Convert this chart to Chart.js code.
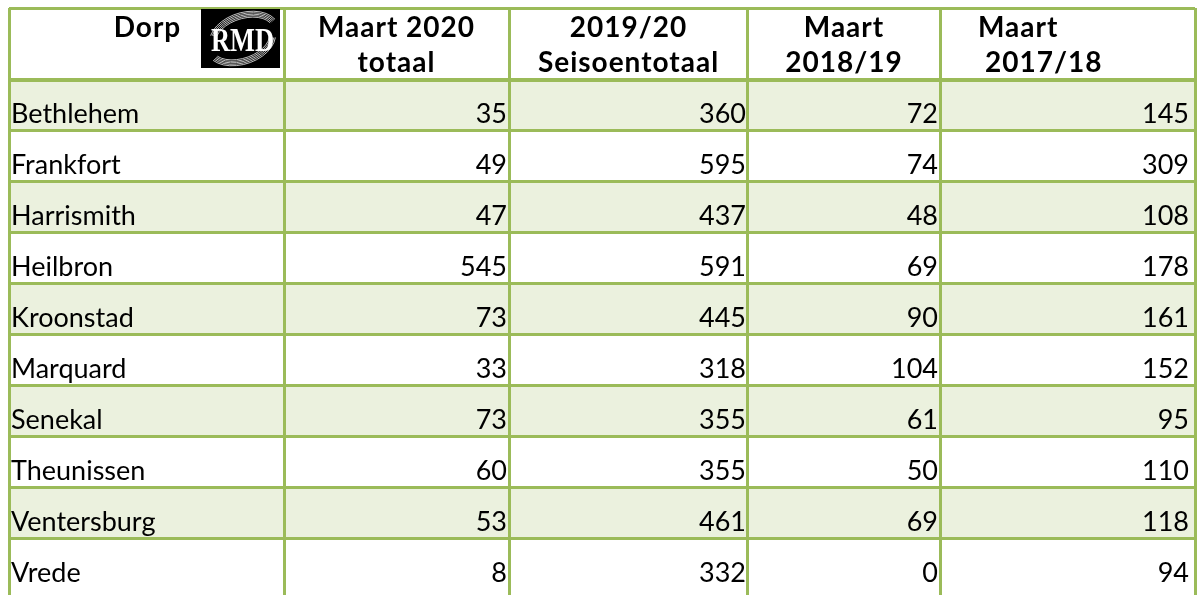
<!DOCTYPE html>
<html lang="af">
<head>
<meta charset="UTF-8">
<title>Dorp - Maart 2020</title>
<script src="https://cdn.jsdelivr.net/npm/chart.js"></script>
<style>
    body { margin: 0; background: #fff; }
    #wrap { width: 1199px; height: 595px; }
</style>
</head>
<body>
<div id="wrap"><canvas id="tableChart" width="1199" height="595"></canvas></div>
<script>
    const towns = ['Bethlehem', 'Frankfort', 'Harrismith', 'Heilbron', 'Kroonstad', 'Marquard', 'Senekal', 'Theunissen', 'Ventersburg', 'Vrede'];
    const maart2020 = [35, 49, 47, 545, 73, 33, 73, 60, 53, 8];
    const seisoen1920 = [360, 595, 437, 591, 445, 318, 355, 355, 461, 332];
    const maart1819 = [72, 74, 48, 69, 90, 104, 61, 50, 69, 0];
    const maart1718 = [145, 309, 108, 178, 161, 152, 95, 110, 118, 94];
    const headers = [['Dorp'], ['Maart 2020', 'totaal'], ['2019/20', 'Seisoentotaal'], ['Maart', '2018/19'], ['Maart', '2017/18']];

    // layout: column widths in px, header height in row units
    const colWidths = [275, 225, 239, 192, 255];
    const colEdges = colWidths.reduce((acc, w) => { acc.push(acc[acc.length - 1] + w); return acc; }, [0]);
    const totalWidth = colEdges[colEdges.length - 1];
    const headerSpan = 72 / 51;
    const rowEdges = [-headerSpan].concat(towns.map((t, i) => i));

    const GREEN = '#9BBB59';
    const SHADE = '#EBF1DE';
    const FONT = 'Lato, "Open Sans", sans-serif';

    const whiteBg = {
        id: 'whiteBg',
        beforeDraw(chart) {
            const c = chart.ctx;
            c.save();
            c.fillStyle = '#fff';
            c.fillRect(0, 0, chart.width, chart.height);
            c.restore();
        }
    };

    function drawLogo(c, right, top) {
        const w = 79, h = 59, left = right - w;
        c.save();
        c.fillStyle = '#000';
        c.fillRect(left, top, w, h);
        const cx = left + w / 2 + 2, cy = top + h / 2;
        // swooshes
        c.strokeStyle = 'rgba(225,225,225,0.85)';
        for (let k = 0; k < 5; k++) {
            c.lineWidth = 1;
            c.beginPath();
            c.ellipse(cx + 2, cy - 2, 36 - k * 1.5, 24 - k * 1.5, -0.3, Math.PI * 1.15, Math.PI * 1.9);
            c.stroke();
            c.beginPath();
            c.ellipse(cx - 2, cy + 2, 36 - k * 1.5, 24 - k * 1.5, -0.3, Math.PI * 0.1, Math.PI * 0.85);
            c.stroke();
        }
        // letters
        c.fillStyle = '#fff';
        c.font = 'bold 33px "Liberation Serif", "DejaVu Serif", serif';
        c.textAlign = 'center';
        c.textBaseline = 'alphabetic';
        c.translate(cx, cy + 12);
        c.scale(0.8, 1);
        c.fillText('RMD', 0, 0);
        c.restore();
    }

    const tableText = {
        id: 'tableText',
        afterDraw(chart) {
            const c = chart.ctx;
            const x = chart.scales.x, y = chart.scales.y;
            const series = [maart2020, seisoen1920, maart1819, maart1718];
            const top = y.getPixelForValue(-headerSpan);
            c.save();

            // header
            c.fillStyle = '#000';
            c.font = 'bold 28px ' + FONT;
            c.letterSpacing = '1px';
            c.textBaseline = 'alphabetic';
            headers.forEach((lines, col) => {
                const left = x.getPixelForValue(colEdges[col]);
                const right = x.getPixelForValue(colEdges[col + 1]);
                lines.forEach((txt, l) => {
                    const base = top + 29 + l * 34.5;
                    if (col === 4) {
                        c.textAlign = 'left';
                        c.fillText(txt, left + 38 + l * 7, base);
                    } else {
                        c.textAlign = 'center';
                        c.fillText(txt, (left + right) / 2 + (col === 0 ? 1 : 0), base);
                    }
                });
            });
            c.letterSpacing = '0px';
            drawLogo(c, x.getPixelForValue(colEdges[1]) - 4, top + 1);

            // body
            c.fillStyle = '#000';
            c.font = '27px ' + FONT;
            c.textBaseline = 'alphabetic';
            towns.forEach((town, i) => {
                const base = y.getPixelForValue(i + 1) - 8;
                c.textAlign = 'left';
                c.fillText(town, x.getPixelForValue(0) + 2, base);
                c.textAlign = 'right';
                series.forEach((vals, s) => {
                    const right = x.getPixelForValue(colEdges[s + 2]);
                    c.fillText(String(vals[i]), right - (s === 3 ? 6 : 2), base);
                });
            });
            c.restore();
        }
    };

    new Chart(document.getElementById('tableChart'), {
        type: 'bar',
        data: {
            datasets: [{
                data: towns.map((t, i) => ({ x: [0, totalWidth], y: i + 0.5 })),
                backgroundColor: towns.map((t, i) => i % 2 === 0 ? SHADE : '#FFFFFF'),
                borderWidth: 0,
                barPercentage: 1,
                categoryPercentage: 1
            }]
        },
        options: {
            indexAxis: 'y',
            responsive: false,
            animation: false,
            layout: { padding: { left: 9, top: 8, right: 4, bottom: 0 } },
            plugins: { legend: { display: false }, tooltip: { enabled: false } },
            scales: {
                x: {
                    type: 'linear',
                    min: 0,
                    max: totalWidth,
                    offset: false,
                    afterBuildTicks: s => { s.ticks = colEdges.map(v => ({ value: v })); },
                    ticks: { display: false },
                    grid: { color: GREEN, lineWidth: 3, drawTicks: false, offset: false, z: 1 },
                    border: { display: false }
                },
                y: {
                    type: 'linear',
                    reverse: true,
                    offset: false,
                    min: -headerSpan,
                    max: towns.length + 0.1,
                    afterBuildTicks: s => { s.ticks = rowEdges.map(v => ({ value: v })); },
                    ticks: { display: false },
                    grid: {
                        color: GREEN,
                        lineWidth: ctx => (ctx.tick && ctx.tick.value === 0 ? 4 : 3),
                        drawTicks: false,
                        offset: false,
                        z: 1
                    },
                    border: { display: false }
                }
            }
        },
        plugins: [whiteBg, tableText]
    });
</script>
</body>
</html>
